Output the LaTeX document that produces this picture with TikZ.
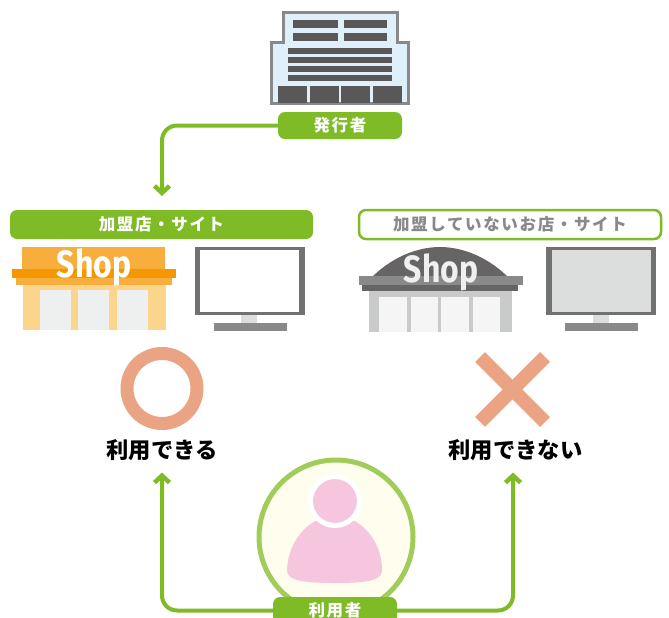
\documentclass[tikz,border=0pt]{standalone}
\usepackage{fontspec}
\usetikzlibrary{arrows.meta}
\newfontfamily\jpfont[LetterSpace=10]{Noto Sans CJK JP}
\newfontfamily\jptight{Noto Sans CJK JP}
\newfontfamily\shopfont{Fira Sans}
\definecolor{leaf}{HTML}{7FBA27}
\definecolor{ringgreen}{HTML}{A0CD5A}
\definecolor{salmon}{HTML}{EAA484}
\definecolor{darkgrey}{HTML}{595757}
\definecolor{midgrey}{HTML}{727171}
\definecolor{roofgrey}{HTML}{666464}
\definecolor{basegrey}{HTML}{898989}
\definecolor{pale}{HTML}{DCDDDD}
\definecolor{wallgrey}{HTML}{C9CACA}
\definecolor{doorgrey}{HTML}{EEF0EF}
\definecolor{doorwhite}{HTML}{F5F5F5}
\definecolor{skyblue}{HTML}{DFF0FA}
\definecolor{signorange}{HTML}{F7AE3C}
\definecolor{barorange}{HTML}{F39800}
\definecolor{wallorange}{HTML}{FCD58C}
\definecolor{cream}{HTML}{FEFDEE}
\definecolor{userpink}{HTML}{F6C6DE}
\begin{document}
\begin{tikzpicture}[x=1pt,y=-1pt]
	\tikzset{
		greenlabel/.style = {shape=rectangle,rounded corners=7pt,fill=leaf,text=white,inner sep=0pt,minimum height=27pt,font=\jpfont\bfseries\fontsize{16.5}{16.5}\selectfont},
		bandlabel/.style = {greenlabel,minimum height=29pt},
		hollowlabel/.style = {bandlabel,fill=white,draw=leaf,line width=2.5pt,text=basegrey},
		verdict/.style = {inner sep=0pt,font=\jptight\bfseries\fontsize{22.3}{22.3}\selectfont},
		shopsign/.style = {inner sep=0pt,anchor=base,xscale=.84,transform shape,font=\shopfont\bfseries\fontsize{38}{38}\selectfont},
		flow/.style = {draw=leaf,line width=4pt,rounded corners=15pt,-{Straight Barb[length=7pt,width=15pt,line width=4.5pt]}},
	}
	\useasboundingbox (0,0) rectangle (669,618);
	\clip (0,0) rectangle (669,618);

	% issuer building
	\filldraw[fill=skyblue,draw=basegrey,line width=3pt] (271.5,103) -- (271.5,42.5) -- (283.5,42.5) -- (283.5,12.5) -- (397.5,12.5) -- (397.5,42.5) -- (408.5,42.5) -- (408.5,103) -- cycle;
	\fill[darkgrey] (293,20) rectangle (338,28);
	\fill[darkgrey] (344,20) rectangle (387,28);
	\fill[darkgrey] (293,33) rectangle (338,41);
	\fill[darkgrey] (344,33) rectangle (387,41);
	\fill[darkgrey] (288,48) rectangle (392,54);
	\fill[darkgrey] (288,57) rectangle (392,63);
	\fill[darkgrey] (288,66) rectangle (392,72);
	\fill[darkgrey] (288,75) rectangle (392,81);
	\fill[darkgrey] (278,86) rectangle (307,103);
	\fill[darkgrey] (310,86) rectangle (339,103);
	\fill[darkgrey] (341,86) rectangle (370,103);
	\fill[darkgrey] (373,86) rectangle (402,103);

	% member shop
	\fill[wallorange] (23,285) rectangle (166,330);
	\fill[doorgrey] (40,290) rectangle (71,330);
	\fill[doorgrey] (78,290) rectangle (109,330);
	\fill[doorgrey] (117,290) rectangle (148,330);
	\fill[signorange] (22,247) rectangle (165,269);
	\fill[signorange] (16,278) rectangle (172,285);
	\fill[barorange] (12,269) rectangle (176,278);
	\node[shopsign,text=white] (shop_a) at (94,277) {Shop};

	% member monitor
	\fill[pale] (241,315) rectangle (257,323);
	\fill[basegrey] (214,323) rectangle (287,331);
	\fill[midgrey] (195,247) rectangle (305,315);
	\fill[white] (200,250) rectangle (299,312);

	% other shop
	\fill[roofgrey] (373,276) .. controls (395,255) and (420,247) .. (440,247) .. controls (460,247) and (485,255) .. (507,276) -- cycle;
	\fill[wallgrey] (369,291) rectangle (512,332);
	\fill[doorwhite] (379,297) rectangle (407,332);
	\fill[doorwhite] (411,297) rectangle (438,332);
	\fill[doorwhite] (441,297) rectangle (469,332);
	\fill[doorwhite] (473,297) rectangle (500,332);
	\fill[basegrey] (359,276) rectangle (523,285);
	\fill[roofgrey] (362,285) rectangle (518,291);
	\node[shopsign,text=doorgrey] (shop_b) at (441,282) {Shop};

	% other monitor
	\fill[pale] (593,315) rectangle (609,323);
	\fill[basegrey] (565,323) rectangle (638,331);
	\fill[midgrey] (546,247) rectangle (656,315);
	\fill[pale] (552,250) rectangle (651,312);

	% verdicts
	\node[circle,draw=salmon,line width=13pt,minimum size=70pt,inner sep=0pt] (yes) at (162,388.5) {};
	\draw[salmon,line width=14pt] (480,357) -- (545,422);
	\draw[salmon,line width=14pt] (545,357) -- (480,422);
	\node[verdict] (can) at (162,450) {利用できる};
	\node[verdict] (cannot) at (515.5,450) {利用できない};

	% user
	\node[circle,draw=ringgreen,fill=cream,line width=5pt,minimum size=154pt,inner sep=0pt] (user) at (336,537) {};
	\fill[userpink] (287,570) .. controls (288,540) and (310,516) .. (335,516) .. controls (360,516) and (382,540) .. (382,570) .. controls (382,580) and (370,583) .. (335,583) .. controls (300,583) and (287,580) .. (287,570) -- cycle;
	\filldraw[fill=userpink,draw=white,line width=5pt] (335,501) circle (24.5);

	% labels
	\node[greenlabel,minimum width=124pt] (issuer) at (340,125.5) {発行者};
	\node[bandlabel,minimum width=303pt] (member) at (161.5,224.5) {加盟店・サイト};
	\node[hollowlabel,minimum width=302pt] (other) at (510,224.5) {加盟していないお店・サイト};
	\node[greenlabel,minimum width=124pt] (holder) at (335,610.5) {利用者};

	\coordinate (tip_a) at (162,196);
	\coordinate (tip_b) at (162,472.5);
	\coordinate (tip_c) at (513,472.5);

	\draw[flow] (issuer.west) -| (tip_a);
	\draw[flow] (holder.west) -| (tip_b);
	\draw[flow] (holder.east) -| (tip_c);
\end{tikzpicture}
\end{document}
